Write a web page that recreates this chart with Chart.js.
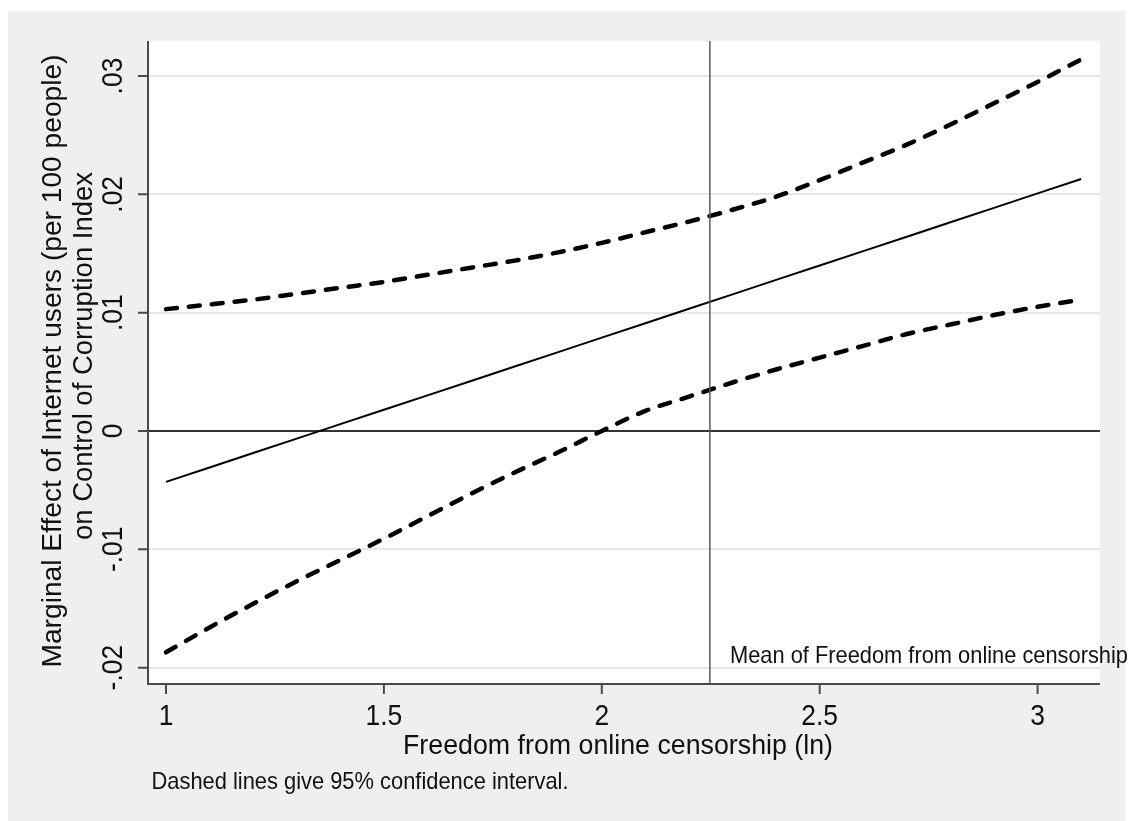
<!DOCTYPE html>
<html>
<head>
<meta charset="utf-8">
<script src="https://cdn.jsdelivr.net/npm/chart.js@4.4.1/dist/chart.umd.min.js"></script>
<style>
  html, body { margin: 0; padding: 0; background: #fff; }
  #wrap { width: 1130px; height: 821px; }
</style>
</head>
<body>
<div id="wrap"><canvas id="myChart" width="1130" height="821"></canvas></div>
<script>
// values
const xVals = [1.0, 1.1, 1.2, 1.3, 1.4, 1.5, 1.6, 1.7, 1.8, 1.9, 2.0,
  2.1, 2.2, 2.3, 2.4, 2.5, 2.6, 2.7, 2.8, 2.9, 3.0, 3.1];
const effect = [-0.00430, -0.00308, -0.00186, -0.00064, 0.00058, 0.00180, 0.00301, 0.00423, 0.00545, 0.00667, 0.00789,
  0.00911, 0.01033, 0.01155, 0.01277, 0.01399, 0.01520, 0.01642, 0.01764, 0.01886, 0.02008, 0.02130];
const upperCI = [0.0103, 0.0107, 0.0111, 0.0116, 0.0121, 0.0126, 0.0132, 0.0138, 0.0144, 0.0151, 0.0159,
  0.0168, 0.0177, 0.0187, 0.0198, 0.0212, 0.0227, 0.0242, 0.0259, 0.0277, 0.0295, 0.0314];
const lowerCI = [-0.0187, -0.0166, -0.0146, -0.0127, -0.0109, -0.0091, -0.0072, -0.0053, -0.0035, -0.0018, 0.0000,
  0.0017, 0.0029, 0.0041, 0.0052, 0.0062, 0.0072, 0.0082, 0.0090, 0.0098, 0.0105, 0.0111];
const meanX = 2.248;

const xTicks = [1, 1.5, 2, 2.5, 3];
const xTickLabels = ['1', '1.5', '2', '2.5', '3'];
const yTicks = [-0.02, -0.01, 0, 0.01, 0.02, 0.03];
const yTickLabels = ['-.02', '-.01', '0', '.01', '.02', '.03'];

const xTitle = 'Freedom from online censorship (ln)';
const yTitle = ['Marginal Effect of Internet users (per 100 people)', 'on Control of Corruption Index'];
const noteText = 'Dashed lines give 95% confidence interval.';
const meanText = 'Mean of Freedom from online censorship';

const xMin = 0.9587, xMax = 3.1432;
const yMin = -0.02138, yMax = 0.03296;

const FONT = '"Liberation Sans", Arial, sans-serif';

const pts = (ys) => xVals.map((x, i) => ({ x: x, y: ys[i] }));

// text drawn narrow like the Stata output
function drawText(ctx, text, x, y, size, opts) {
  opts = opts || {};
  ctx.save();
  ctx.font = size + 'px ' + FONT;
  ctx.fillStyle = opts.color || '#111';
  ctx.translate(x, y);
  if (opts.rot) ctx.rotate(opts.rot);
  let s = opts.scale || 1;
  if (opts.width) s = opts.width / ctx.measureText(text).width;
  ctx.scale(s, 1);
  ctx.textAlign = 'center';
  ctx.textBaseline = 'middle';
  ctx.fillText(text, 0, 0);
  ctx.restore();
}

const stataFrame = {
  id: 'stataFrame',
  beforeDraw(chart) {
    const ctx = chart.ctx;
    const a = chart.chartArea;
    ctx.save();
    ctx.fillStyle = '#ffffff';
    ctx.fillRect(0, 0, chart.width, chart.height);
    ctx.fillStyle = '#efefef';
    ctx.fillRect(8, 11, 1117, 810);
    ctx.fillStyle = '#ffffff';
    ctx.fillRect(a.left, a.top, a.right - a.left, a.bottom - a.top);
    ctx.restore();
  },
  afterDraw(chart) {
    const ctx = chart.ctx;
    const a = chart.chartArea;
    const xs = chart.scales.x, ys = chart.scales.y;
    ctx.save();
    ctx.strokeStyle = '#4a4a4a';
    ctx.lineWidth = 2;
    ctx.beginPath();
    ctx.moveTo(a.left, a.top);
    ctx.lineTo(a.left, a.bottom);
    ctx.lineTo(a.right, a.bottom);
    ctx.stroke();
    ctx.beginPath();
    yTicks.forEach(v => {
      const py = ys.getPixelForValue(v);
      ctx.moveTo(a.left - 10, py);
      ctx.lineTo(a.left, py);
    });
    xTicks.forEach(v => {
      const px = xs.getPixelForValue(v);
      ctx.moveTo(px, a.bottom);
      ctx.lineTo(px, a.bottom + 10);
    });
    ctx.stroke();
    ctx.restore();

    xTicks.forEach((v, i) => {
      drawText(ctx, xTickLabels[i], xs.getPixelForValue(v), 717, 30, { scale: 0.88 });
    });
    yTicks.forEach((v, i) => {
      drawText(ctx, yTickLabels[i], 114, ys.getPixelForValue(v), 30, { scale: 0.88, rot: -Math.PI / 2 });
    });
    drawText(ctx, xTitle, 618, 746, 28, { width: 430 });
    drawText(ctx, yTitle[0], 53, 361, 28, { width: 613, rot: -Math.PI / 2 });
    drawText(ctx, yTitle[1], 84, 356, 28, { width: 368, rot: -Math.PI / 2 });
    drawText(ctx, noteText, 360, 782, 24, { width: 417 });
    drawText(ctx, meanText, 929, 656, 24, { width: 398 });
  }
};

new Chart(document.getElementById('myChart'), {
  type: 'line',
  data: {
    datasets: [
      {
        label: 'mean',
        data: [{ x: meanX, y: yMin }, { x: meanX, y: yMax }],
        borderColor: '#5a5a5a',
        borderWidth: 1.5,
        pointRadius: 0,
      },
      {
        label: 'effect',
        data: pts(effect),
        borderColor: '#000',
        borderWidth: 2,
        pointRadius: 0,
      },
      {
        label: 'upper',
        data: pts(upperCI),
        borderColor: '#000',
        borderWidth: 4.5,
        borderDash: [11, 12],
        borderCapStyle: 'round',
        cubicInterpolationMode: 'monotone',
        pointRadius: 0,
      },
      {
        label: 'lower',
        data: pts(lowerCI),
        borderColor: '#000',
        borderWidth: 4.5,
        borderDash: [11, 12],
        borderCapStyle: 'round',
        cubicInterpolationMode: 'monotone',
        pointRadius: 0,
      },
    ],
  },
  options: {
    responsive: false,
    animation: false,
    devicePixelRatio: 1,
    layout: { padding: { left: 148, top: 41, right: 30, bottom: 137 } },
    plugins: {
      legend: { display: false },
      tooltip: { enabled: false },
    },
    scales: {
      x: {
        type: 'linear',
        min: xMin,
        max: xMax,
        grid: { display: false, drawTicks: false },
        border: { display: false },
        ticks: { display: false },
      },
      y: {
        type: 'linear',
        min: yMin,
        max: yMax,
        afterBuildTicks: (axis) => {
          axis.ticks = yTicks.map(v => ({ value: v }));
        },
        grid: {
          drawTicks: false,
          lineWidth: 2,
          color: (c) => (c.tick && c.tick.value === 0 ? '#333333' : '#e8e8e8'),
        },
        border: { display: false },
        ticks: { display: false },
      },
    },
  },
  plugins: [stataFrame],
});
</script>
</body>
</html>
